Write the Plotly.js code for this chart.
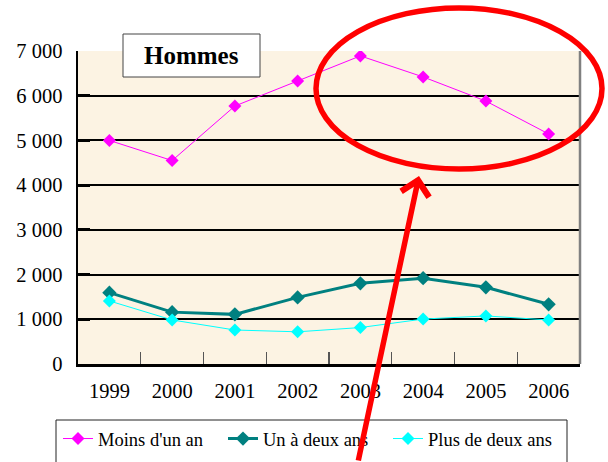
<!DOCTYPE html>
<html>
<head>
<meta charset="utf-8">
<script src="https://cdn.plot.ly/plotly-3.0.1.min.js"></script>
<style>html,body{margin:0;padding:0;background:#fff}#chart{width:608px;height:462px}</style>
</head>
<body>
<div id="chart"></div>
<script>
const years = ['1999', '2000', '2001', '2002', '2003', '2004', '2005', '2006'];
const moinsUnAn = [5000, 4550, 5770, 6330, 6890, 6420, 5880, 5145];
const unADeuxAns = [1595, 1160, 1110, 1490, 1805, 1920, 1715, 1335];
const plusDeDeuxAns = [1410, 985, 760, 720, 815, 1005, 1075, 985];
const seriesNames = ["Moins d'un an", "Un à deux ans", "Plus de deux ans"];
const yTicks = [0, 1000, 2000, 3000, 4000, 5000, 6000, 7000];
const chartTitle = 'Hommes';

// plot area in pixels
const L = 78, R = 580, T = 51, B = 364;
const px = v => (v - L) / (R - L);
const py = v => (B - v) / (B - T);

const serif = 'Liberation Serif, Times New Roman, serif';

const traces = [
  {x: years, y: moinsUnAn, name: seriesNames[0], type: 'scatter', mode: 'lines+markers',
   line: {color: '#FF00FF', width: 1}, marker: {symbol: 'diamond', size: 10, color: '#FF00FF'}},
  {x: years, y: unADeuxAns, name: seriesNames[1], type: 'scatter', mode: 'lines+markers',
   line: {color: '#008080', width: 3}, marker: {symbol: 'diamond', size: 11, color: '#008080'}},
  {x: years, y: plusDeDeuxAns, name: seriesNames[2], type: 'scatter', mode: 'lines+markers',
   line: {color: '#00FFFF', width: 1}, marker: {symbol: 'diamond', size: 10, color: '#00FFFF'}}
];

const layout = {
  width: 608, height: 462,
  margin: {l: L, r: 608 - R, t: T, b: 462 - B, pad: 0, autoexpand: false},
  paper_bgcolor: '#ffffff',
  plot_bgcolor: '#FCF3E3',
  separators: ', ',
  font: {family: serif, color: '#000', size: 20},
  showlegend: true,
  legend: {
    orientation: 'h', x: px(58), y: py(420), xanchor: 'left', yanchor: 'top',
    bgcolor: 'rgba(0,0,0,0)', borderwidth: 0, font: {family: serif, size: 18.5, color: '#000'},
    entrywidth: 120, entrywidthmode: 'pixels', traceorder: 'normal'
  },
  xaxis: {
    type: 'category', categoryorder: 'array', categoryarray: years,
    range: [-0.5, 7.5], showgrid: false, zeroline: false,
    showline: true, linecolor: '#000', linewidth: 2.5,
    ticks: 'inside', ticklen: 12, tickwidth: 1.2, tickcolor: '#555',
    tickson: 'boundaries', ticklabelstandoff: 7,
    tickfont: {family: serif, size: 20.5, color: '#000'}, fixedrange: true
  },
  yaxis: {
    range: [0, 7000], tickvals: yTicks, tickformat: ',d',
    showgrid: true, gridcolor: '#000', gridwidth: 2, zeroline: false,
    showline: true, linecolor: '#000', linewidth: 2.5,
    ticks: 'inside', ticklen: 12, tickwidth: 3, tickcolor: '#000',
    ticklabelstandoff: 9,
    tickfont: {family: serif, size: 20.5, color: '#000'}, fixedrange: true
  },
  shapes: [
    {type: 'line', xref: 'paper', yref: 'paper', x0: 1, x1: 1, y0: 0, y1: 1,
     line: {color: '#808080', width: 2.5}},
    {type: 'rect', xref: 'paper', yref: 'paper', layer: 'above',
     x0: px(123), x1: px(260), y0: py(77), y1: py(34),
     fillcolor: '#ffffff', line: {color: '#444', width: 1}},
    {type: 'rect', xref: 'paper', yref: 'paper', layer: 'below',
     x0: px(56), x1: px(567), y0: py(475), y1: py(420),
     fillcolor: '#ffffff', line: {color: '#222', width: 1}},
    {type: 'circle', xref: 'paper', yref: 'paper', layer: 'above',
     x0: px(316), x1: px(602), y0: py(169), y1: py(8),
     line: {color: '#FF0000', width: 5.5}}
  ],
  annotations: [
    {text: '<b>' + chartTitle + '</b>', xref: 'paper', yref: 'paper',
     x: px(191.5), y: py(56), xanchor: 'center', yanchor: 'middle', showarrow: false,
     font: {family: serif, size: 25, color: '#000'}},
    {text: '', xref: 'paper', yref: 'paper', x: px(419), y: py(176),
     showarrow: true, arrowhead: 4, arrowsize: 1, arrowwidth: 5.5, arrowcolor: '#FF0000',
     ax: -61, ay: 299, standoff: 0}
  ]
};

Plotly.newPlot('chart', traces, layout, {displayModeBar: false, staticPlot: true});
</script>
</body>
</html>
